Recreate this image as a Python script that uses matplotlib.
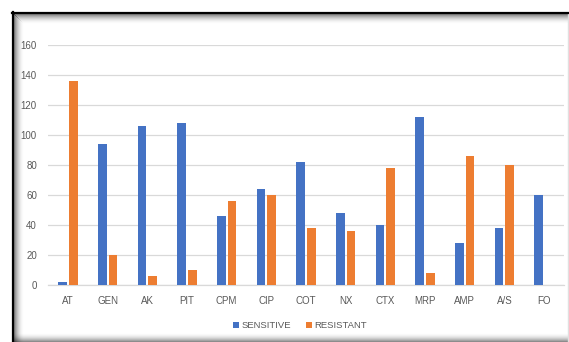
#!/usr/bin/env python3
"""
Bar chart of antibiotic sensitivity / resistance counts per drug.
"""

import numpy as np
import matplotlib.pyplot as plt
from matplotlib.patches import Rectangle
from matplotlib.lines import Line2D

# Drug codes and counts for each group
drugs = ['AT', 'GEN', 'AK', 'PIT', 'CPM', 'CIP', 'COT', 'NX', 'CTX', 'MRP', 'AMP', 'A/S', 'FO']
sensitive = [2, 94, 106, 108, 46, 64, 82, 48, 40, 112, 28, 38, 60]
resistant = [136, 20, 6, 10, 56, 60, 38, 36, 78, 8, 86, 80, 0]
y_ticks = [0, 20, 40, 60, 80, 100, 120, 140, 160]

W, H = 569, 342
BLUE = '#4472C4'
ORANGE = '#ED7D31'
TEXT = '#595959'
GRID = '#D9D9D9'

plt.rcParams['font.family'] = ['Liberation Sans', 'DejaVu Sans']


def px(x, y):
    """Pixel position (from top-left) to figure fraction."""
    return x / W, 1 - y / H


def draw_frame(fig):
    """Dark border with soft inner shadow, like a pasted chart object."""
    # inner shadow on left and top edges
    for i in range(11):
        a = 0.6 * (1 - i / 11) ** 2
        fig.add_artist(Rectangle(px(13 + i, H), 1 / W, (H - 13 - i) / H,
                                 transform=fig.transFigure, color='black',
                                 alpha=a, lw=0))
        fig.add_artist(Rectangle(px(13 + i, 14 + i), (W - 13 - i) / W, 1 / H,
                                 transform=fig.transFigure, color='black',
                                 alpha=a, lw=0))
    # shadow along the bottom
    for i in range(9):
        a = 0.45 * (1 - i / 9) ** 2
        fig.add_artist(Rectangle(px(13, H - i), (W - 13) / W, 1 / H,
                                 transform=fig.transFigure, color='black',
                                 alpha=a, lw=0))
    # faint right edge
    fig.add_artist(Line2D([567.5 / W] * 2, [0, 1 - 13 / H],
                          transform=fig.transFigure, color='#E0E0E0', lw=1))
    # black border lines
    fig.add_artist(Line2D([12.5 / W] * 2, [0, 1 - 12 / H],
                          transform=fig.transFigure, color='black', lw=1.6))
    fig.add_artist(Line2D([12 / W, 1], [1 - 12.5 / H] * 2,
                          transform=fig.transFigure, color='black', lw=1.6))


def create_plot():
    fig = plt.figure(figsize=(W / 100, H / 100), dpi=100)
    fig.patch.set_facecolor('white')

    left, bottom = px(48, 285)
    right, top = px(564, 45)
    ax = fig.add_axes([left, bottom, right - left, top - bottom])

    x = np.arange(len(drugs))
    bw = 0.22
    ax.bar(x - bw / 2 - 0.025, sensitive, bw, color=BLUE, label='SENSITIVE', zorder=3)
    ax.bar(x + bw / 2 + 0.025, resistant, bw, color=ORANGE, label='RESISTANT', zorder=3)

    ax.set_xlim(-0.5, len(drugs) - 0.5)
    ax.set_ylim(0, 160)
    ax.set_yticks(y_ticks)
    ax.set_xticks(x)
    ax.set_xticklabels(drugs)

    ax.grid(True, axis='y', color=GRID, lw=0.9, zorder=0)
    ax.set_axisbelow(True)
    for s in ['top', 'right', 'left']:
        ax.spines[s].set_visible(False)
    ax.spines['bottom'].set_color(GRID)
    ax.spines['bottom'].set_linewidth(0.9)
    ax.tick_params(length=0, labelsize=7, colors=TEXT)
    ax.tick_params(axis='y', pad=8)
    ax.tick_params(axis='x', pad=8)
    ax.set_facecolor('none')

    ax.legend(loc='center', bbox_to_anchor=px(300, 326), bbox_transform=fig.transFigure,
              ncol=2, frameon=False, fontsize=6.8, labelcolor=TEXT,
              handlelength=0.6, handleheight=0.6, handletextpad=0.3,
              columnspacing=1.6)

    draw_frame(fig)
    return fig


def main():
    fig = create_plot()
    fig.savefig('out.png', dpi=100)


if __name__ == "__main__":
    main()
